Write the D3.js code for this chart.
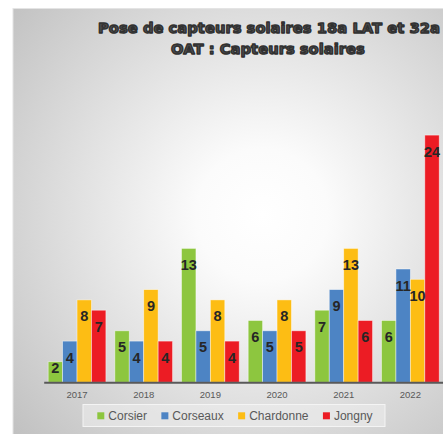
<!DOCTYPE html>
<html>
<head>
<meta charset="utf-8">
<script src="https://cdn.jsdelivr.net/npm/d3@7"></script>
<style>
  html, body { margin: 0; padding: 0; background: #ffffff; overflow: hidden; }
  svg { display: block; }
</style>
</head>
<body>
<div id="chart"></div>
<script>
const titleLines = ["Pose de capteurs solaires 18a LAT et 32a", "OAT : Capteurs solaires"];
const years = ["2017", "2018", "2019", "2020", "2021", "2022"];
const seriesNames = ["Corsier", "Corseaux", "Chardonne", "Jongny"];
const corsier = [2, 5, 13, 6, 7, 6];
const corseaux = [4, 4, 5, 5, 9, 11];
const chardonne = [8, 9, 8, 8, 13, 10];
const jongny = [7, 4, 4, 5, 6, 24];
const seriesColors = ["#8dc63f", "#4d84c4", "#fdbd14", "#ec1c24"];

const seriesValues = [corsier, corseaux, chardonne, jongny];
const W = 443, H = 434;

const svg = d3.select("#chart").append("svg").attr("width", W).attr("height", H);
const defs = svg.append("defs");
const grad = defs.append("radialGradient")
  .attr("id", "bg").attr("gradientUnits", "userSpaceOnUse")
  .attr("cx", 262).attr("cy", 215).attr("r", 330);
grad.append("stop").attr("offset", "0").attr("stop-color", "#ffffff");
grad.append("stop").attr("offset", "0.2").attr("stop-color", "#fbfbfb");
grad.append("stop").attr("offset", "1").attr("stop-color", "#c1c1c1");

// chart area
svg.append("rect").attr("x", 13).attr("y", 8.5).attr("width", 470).attr("height", 460)
  .attr("fill", "url(#bg)").attr("stroke", "#e4e4e4").attr("stroke-width", 1);

// title
const title = svg.append("g").attr("font-family", "'DejaVu Sans', sans-serif")
  .attr("font-weight", "bold").attr("text-anchor", "middle")
  .attr("fill", "#4e4e4e").attr("stroke", "#303030").attr("stroke-width", 1.4)
  .attr("stroke-linejoin", "round");
const t1 = title.append("text").attr("x", 269).attr("y", 33).attr("font-size", 15).text(titleLines[0]);
const w1 = t1.node().getComputedTextLength();
const fs = 15 * 342 / w1;
t1.attr("font-size", fs);
title.append("text").attr("x", 268).attr("y", 54).attr("font-size", fs).text(titleLines[1]);

// scales
const x0 = d3.scaleBand().domain(years).range([43.7, 443.7]).paddingInner(0).paddingOuter(0);
const x1 = d3.scaleBand().domain(seriesNames).range([0, x0.bandwidth()]).paddingInner(0).paddingOuter(0.31);
const y = d3.scaleLinear().domain([0, 25]).range([382.3, 124.8]);

const data = [];
years.forEach((yr, i) => {
  seriesNames.forEach((s, j) => {
    data.push({ year: yr, series: s, value: seriesValues[j][i], color: seriesColors[j] });
  });
});

const bars = svg.append("g");
bars.selectAll("rect").data(data).join("rect")
  .attr("x", d => x0(d.year) + x1(d.series))
  .attr("y", d => y(d.value))
  .attr("width", x1.bandwidth())
  .attr("height", d => y(0) - y(d.value))
  .attr("fill", d => d.color)
  .attr("stroke", "rgba(255,255,255,0.55)")
  .attr("stroke-width", 0.8);

// axis
const axis = svg.append("g").attr("transform", `translate(0,${y(0)})`)
  .call(d3.axisBottom(x0).tickSize(0).tickPadding(9));
axis.select(".domain").attr("stroke", "#595959").attr("stroke-width", 2);
axis.selectAll("text").attr("font-family", "'Liberation Sans', Arial, sans-serif")
  .attr("font-size", 9.5).attr("fill", "#595959");

// labels
svg.append("g").selectAll("text").data(data).join("text")
  .attr("x", d => x0(d.year) + x1(d.series) + x1.bandwidth() / 2)
  .attr("y", d => Math.min(y(d.value) + 21.5, y(0) - 9))
  .attr("text-anchor", "middle")
  .attr("font-family", "'Liberation Sans', Arial, sans-serif")
  .attr("font-weight", "bold").attr("font-size", 14.5)
  .attr("fill", "#262626")
  .text(d => d.value);

// legend
const lg = svg.append("g");
lg.append("rect").attr("x", 83).attr("y", 404.5).attr("width", 302).attr("height", 22)
  .attr("fill", "rgba(236,236,236,0.6)").attr("stroke", "#f4f4f4").attr("stroke-width", 1);
let lx = 97.3;
seriesNames.forEach((s, j) => {
  lg.append("rect").attr("x", lx).attr("y", 412.3).attr("width", 7).attr("height", 7)
    .attr("fill", seriesColors[j]);
  const t = lg.append("text").attr("x", lx + 11).attr("y", 420)
    .attr("font-family", "'Liberation Sans', Arial, sans-serif")
    .attr("font-size", 12).attr("fill", "#595959").text(s);
  lx = lx + 11 + t.node().getComputedTextLength() + 14.4;
});
</script>
</body>
</html>
